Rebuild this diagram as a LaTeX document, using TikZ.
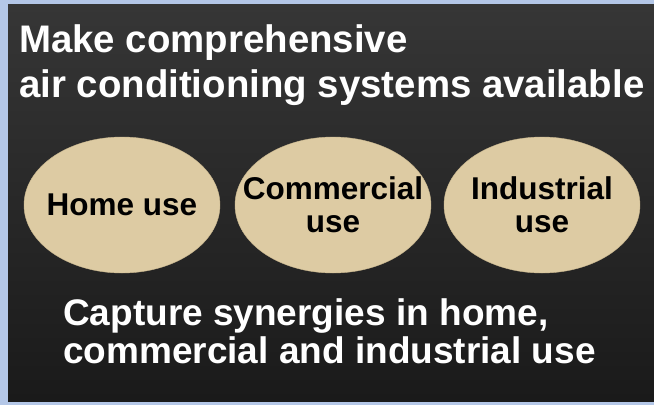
\documentclass[tikz,border=0pt]{standalone}
\usepackage{fontspec}
\setmainfont{Liberation Sans}
\usetikzlibrary{shapes.geometric, positioning}
\definecolor{frameblue}{HTML}{B4C7E7}
\definecolor{paneltop}{HTML}{363636}
\definecolor{panelbottom}{HTML}{1A1A1A}
\definecolor{sand}{HTML}{DDCBA3}
\definecolor{sandline}{HTML}{C9B78F}
\tikzstyle{headline} = [anchor=base west, inner sep=0pt, text=white, font=\bfseries\fontsize{38.4}{45}\selectfont, align=left]
\tikzstyle{footline} = [anchor=base west, inner sep=0pt, text=white, font=\bfseries\fontsize{37}{38}\selectfont, align=left]
\tikzstyle{usage} = [ellipse, draw=sandline, fill=sand, minimum width=196pt, minimum height=136pt, inner xsep=-26pt, inner ysep=0pt, text=black, font=\bfseries\fontsize{31.5}{33}\selectfont, align=center]

\begin{document}
\begin{tikzpicture}[x=1pt, y=-1pt]
	\useasboundingbox (0,0) rectangle (654,405);
	\fill[frameblue] (0,0) rectangle (654,405);
	\shade[top color=paneltop, bottom color=panelbottom] (8,4) rectangle (654,401);
	% title
	\node (Title1) [headline] at (19,52) {Make comprehensive};
	\node (Title2) [headline] at (19,97) {air conditioning systems available};
	% three fields of use
	\node (Home) [usage] at (122,205) {Home use};
	\node (Commercial) [usage] at (333,205) {Commercial\\use};
	\node (Industrial) [usage] at (542,205) {Industrial\\use};
	% closing statement
	\node (Synergy1) [footline] at (63,325) {Capture synergies in home,};
	\node (Synergy2) [footline] at (63,363) {commercial and industrial use};
\end{tikzpicture}
\end{document}
